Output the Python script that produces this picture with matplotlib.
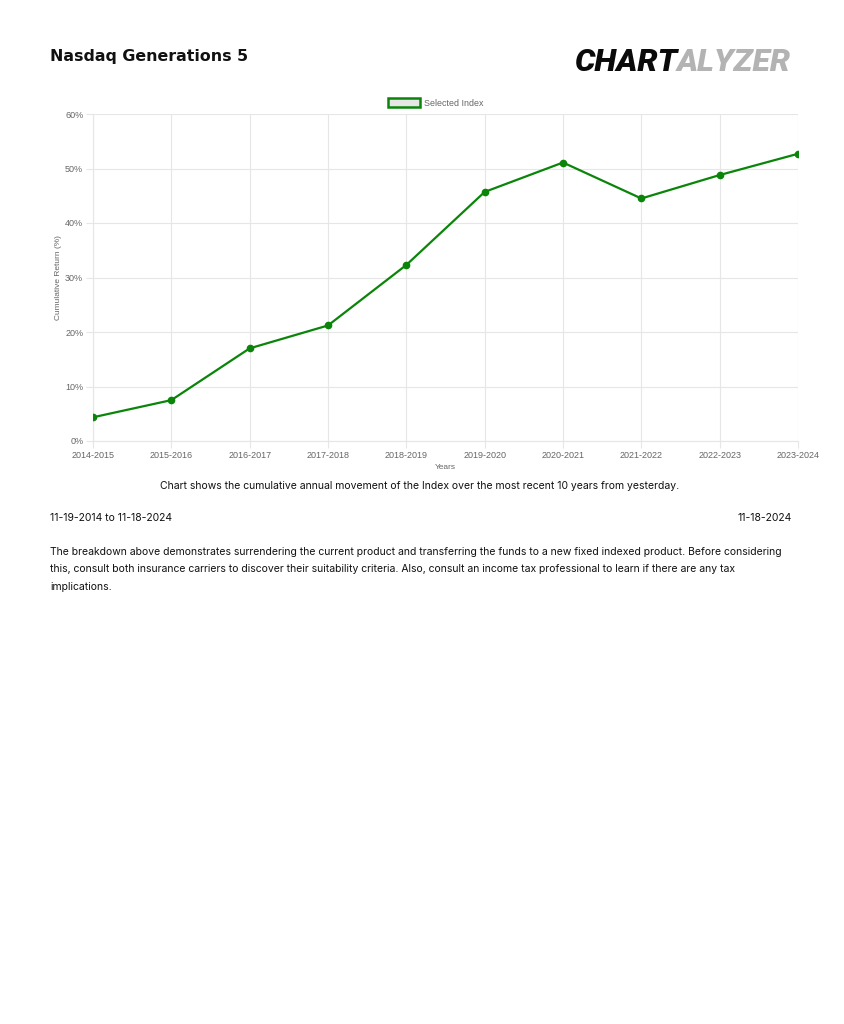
import matplotlib.pyplot as plt

# data
years = ['2014-2015', '2015-2016', '2016-2017', '2017-2018', '2018-2019',
         '2019-2020', '2020-2021', '2021-2022', '2022-2023', '2023-2024']
returns = [4.35, 7.5, 17.0, 21.2, 32.3, 45.7, 51.1, 44.5, 48.8, 52.7]
yticks = [0, 10, 20, 30, 40, 50, 60]

W, H = 844, 1024
green = '#0a850a'
grid_c = '#e6e6e6'
tick_c = '#666666'

fig = plt.figure(figsize=(W / 100, H / 100), dpi=100)

def fx(px):
    return px / W

def fy(py):
    return 1 - py / H

# header
fig.text(fx(50), fy(56), 'Nasdaq Generations 5', fontsize=11.4, fontweight='bold',
         family='DejaVu Sans', color='#111111', va='center', ha='left')
t1 = fig.text(fx(574), fy(62), 'CHART', fontsize=23, fontweight='black', style='italic',
              family='Roboto', color='#0a0a0a', va='center', ha='left')

ax = fig.add_axes([fx(93), fy(441), fx(798) - fx(93), (441 - 114) / H])
ax.annotate('ALYZER', xy=(1, 0.5), xycoords=t1, va='center', ha='left',
            fontsize=23, fontweight='black', style='italic', family='Roboto',
            color='#b3b3b3', annotation_clip=False)

x = list(range(len(years)))
ax.plot(x, returns, color=green, lw=1.6, marker='o', markersize=4.5,
        markerfacecolor=green, markeredgecolor=green, label='Selected Index',
        zorder=3, solid_joinstyle='round')

ax.set_xlim(0, len(years) - 1)
ax.set_ylim(0, 60)
ax.set_xticks(x)
ax.set_xticklabels(years)
ax.set_yticks(yticks)
ax.set_yticklabels([f'{v}%' for v in yticks])
ax.grid(True, color=grid_c, lw=0.8)
for s in ax.spines.values():
    s.set_color(grid_c)
    s.set_linewidth(0.8)
ax.spines['top'].set_visible(False)
ax.spines['right'].set_visible(False)
ax.tick_params(colors=grid_c, labelcolor=tick_c, labelsize=6.5, length=5, width=0.8,
               pad=2)
for lab in ax.get_xticklabels() + ax.get_yticklabels():
    lab.set_family('Liberation Sans')

ax.set_xlabel('Years', fontsize=6, color=tick_c, family='Liberation Sans', labelpad=3)
ax.set_ylabel('Cumulative Return (%)', fontsize=6, color=tick_c,
              family='Liberation Sans', labelpad=2)

# legend
leg = ax.legend(handles=[plt.Rectangle((0, 0), 1, 1, facecolor='#e6e6e6',
                                       edgecolor=green, lw=1.8)],
                labels=['Selected Index'], loc='lower center',
                bbox_to_anchor=(0.486, 1.0), frameon=False, fontsize=6.4,
                handlelength=3.6, handleheight=1.2, handletextpad=0.4,
                borderaxespad=0.3)
for t in leg.get_texts():
    t.set_color(tick_c)
    t.set_family('Liberation Sans')

# notes below the chart
body = dict(fontsize=7.5, family='Inter', color='#111111', va='center')
fig.text(fx(420), fy(486), 'Chart shows the cumulative annual movement of the Index over '
         'the most recent 10 years from yesterday.', ha='center', **body)
fig.text(fx(50), fy(518), '11-19-2014 to 11-18-2024', ha='left', **body)
fig.text(fx(792), fy(518), '11-18-2024', ha='right', **body)
para = [
    'The breakdown above demonstrates surrendering the current product and transferring '
    'the funds to a new fixed indexed product. Before considering',
    'this, consult both insurance carriers to discover their suitability criteria. Also, '
    'consult an income tax professional to learn if there are any tax',
    'implications.',
]
for i, line in enumerate(para):
    fig.text(fx(50), fy(552 + 17.3 * i), line, ha='left', **body)

fig.savefig('out.png', dpi=100, facecolor='white')
